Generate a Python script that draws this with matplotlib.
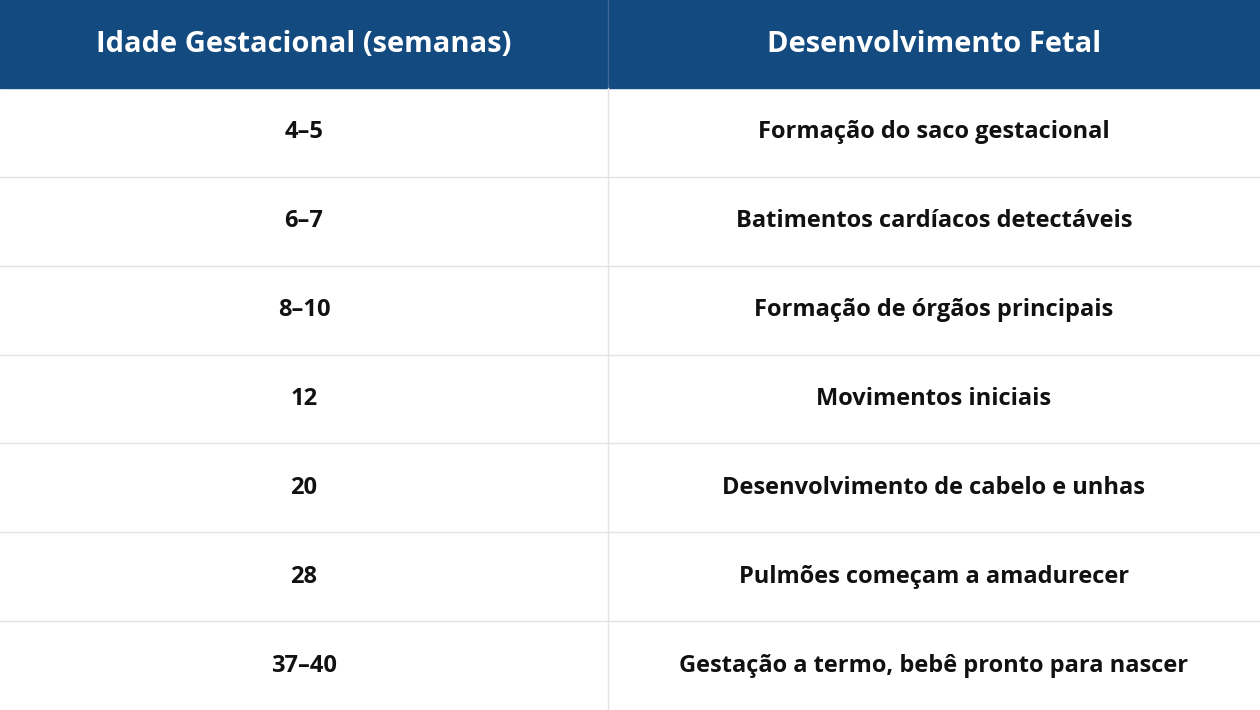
import matplotlib.pyplot as plt
from matplotlib.patches import Rectangle

plt.rcParams['font.family'] = ['Open Sans', 'DejaVu Sans']

headers = ['Idade Gestacional (semanas)', 'Desenvolvimento Fetal']
weeks = ['4–5', '6–7', '8–10', '12', '20', '28', '37–40']
stages = ['Formação do saco gestacional', 'Batimentos cardíacos detectáveis',
          'Formação de órgãos principais', 'Movimentos iniciais',
          'Desenvolvimento de cabelo e unhas', 'Pulmões começam a amadurecer',
          'Gestação a termo, bebê pronto para nascer']

W, H = 1260, 710
col_x = [0, 608, 1260]
header_h = 88
row_h = (H - header_h) / len(weeks)
header_color = '#134a7f'
line_color = '#e2e2e2'

fig = plt.figure(figsize=(12.6, 7.1), dpi=100)
ax = fig.add_axes([0, 0, 1, 1])
ax.set_xlim(0, W)
ax.set_ylim(H, 0)
ax.axis('off')

ax.add_patch(Rectangle((0, 0), W, header_h, color=header_color))
ax.plot([col_x[1], col_x[1]], [0, header_h], color='#3d6796', lw=1)
for j, h in enumerate(headers):
    ax.text((col_x[j] + col_x[j + 1]) / 2, header_h / 2, h, color='white',
            fontsize=21, fontweight='bold', ha='center', va='center')

for i, (wk, st) in enumerate(zip(weeks, stages)):
    y0 = header_h + i * row_h
    yc = y0 + row_h / 2
    ax.text(col_x[1] / 2, yc, wk, fontsize=17, fontweight='bold', ha='center', va='center', color='#111111')
    ax.text((col_x[1] + col_x[2]) / 2, yc, st, fontsize=17, fontweight='bold', ha='center', va='center', color='#111111')
    ax.plot([0, W], [y0 + row_h, y0 + row_h], color=line_color, lw=1)
ax.plot([col_x[1], col_x[1]], [header_h, H], color=line_color, lw=1)

fig.savefig('out.png', dpi=100)
